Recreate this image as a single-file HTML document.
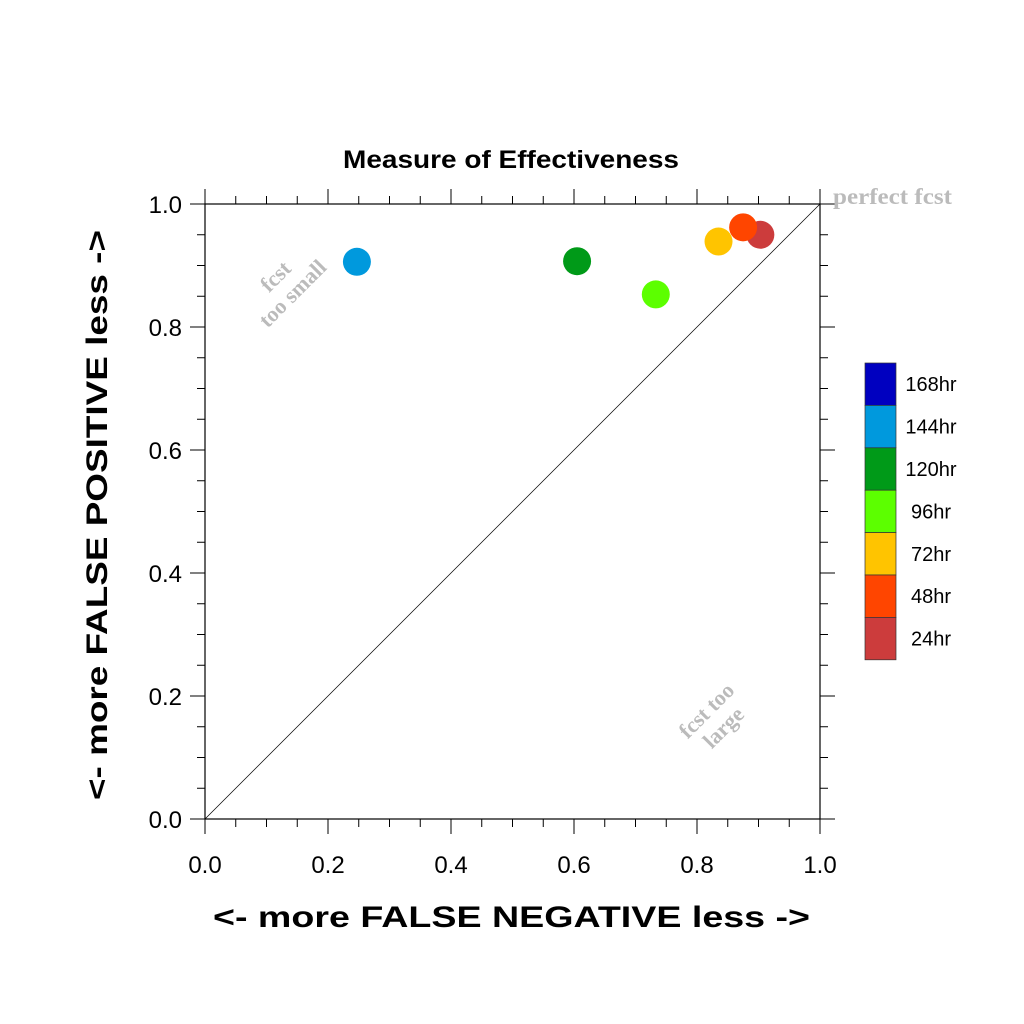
<!DOCTYPE html>
<html><head><meta charset="utf-8"><style>body{margin:0;background:#fff}svg{display:block}</style></head>
<body>
<svg id="c" width="1024" height="1024" xmlns="http://www.w3.org/2000/svg" font-family="Liberation Sans, sans-serif" xml:space="preserve">
<text x="343" y="168" textLength="336" lengthAdjust="spacingAndGlyphs" font-size="25" font-weight="bold">Measure of Effectiveness</text>
<g id="axes"></g>
<line x1="205" y1="819" x2="820" y2="204" stroke="#000" stroke-width="0.7"/>
<text x="833" y="204" textLength="119" lengthAdjust="spacingAndGlyphs" font-family="Liberation Serif, serif" font-weight="bold" font-size="23" fill="#bbb">perfect fcst</text>
<g transform="translate(287,288) rotate(-45)" fill="#bbb" font-family="Liberation Serif, serif" font-weight="bold" font-size="22" text-anchor="middle"><text x="0" y="-9">fcst</text><text x="0" y="15">too small</text></g>
<g transform="translate(718,722) rotate(-45)" fill="#bbb" font-family="Liberation Serif, serif" font-weight="bold" font-size="22" text-anchor="middle"><text x="0" y="-9">fcst too</text><text x="0" y="15">large</text></g>
<g id="pts"></g>
<g id="leg"></g>
<text x="213" y="927" textLength="597" lengthAdjust="spacingAndGlyphs" font-size="30" font-weight="bold">&lt;- more   FALSE NEGATIVE   less -&gt;</text>
<text transform="translate(107,800) rotate(-90)" x="0" y="0" textLength="570" lengthAdjust="spacingAndGlyphs" font-size="30" font-weight="bold">&lt;- more   FALSE POSITIVE   less -&gt;</text>
</svg>
<script>
const labels=["24hr","48hr","72hr","96hr","120hr","144hr"];
const xVals=[0.903,0.875,0.835,0.733,0.605,0.247];
const yVals=[0.950,0.962,0.939,0.853,0.907,0.906];
const legendLabels=["168hr","144hr","120hr","96hr","72hr","48hr","24hr"];
const legendColors=["#0000c0","#0099dd","#009a18","#5cff00","#ffc400","#ff4500","#cc3c3c"];
const tickVals=[0,0.2,0.4,0.6,0.8,1.0];
const colorOf={"24hr":"#cc3c3c","48hr":"#ff4500","72hr":"#ffc400","96hr":"#5cff00","120hr":"#009a18","144hr":"#0099dd"};
const NS="http://www.w3.org/2000/svg";
const X0=205,X1=820,Y0=819,Y1=204;
const sx=v=>X0+v*(X1-X0), sy=v=>Y0-v*(Y0-Y1);
function mk(t,a,p){const e=document.createElementNS(NS,t);for(const k in a)e.setAttribute(k,a[k]);p.appendChild(e);return e;}
const ax=document.getElementById('axes');
const fr=mk('rect',{x:X0,y:Y1,width:X1-X0,height:Y0-Y1,fill:'none',stroke:'#000','stroke-width':1.2},ax);


for(let i=0;i<=20;i++){const v=i/20;const maj=i%4===0;const L=maj?15:8;
 const px=sx(v),py=sy(v);
 [[px,Y0,px,Y0+L],[px,Y1,px,Y1-L],[X0,py,X0-L,py],[X1,py,X1+L,py]].forEach(c=>{const l=mk('line',{x1:c[0],y1:c[1],x2:c[2],y2:c[3],stroke:'#000','stroke-width':1},ax);
 
 });}
tickVals.forEach(v=>{const t=mk('text',{x:sx(v),y:873,'text-anchor':'middle','font-size':24},ax);t.textContent=v.toFixed(1);
 
 
 const u=mk('text',{x:182,y:sy(v)+9,'text-anchor':'end','font-size':24},ax);u.textContent=v.toFixed(1);
 
 });
const pg=document.getElementById('pts');
labels.forEach((l,i)=>{const c=mk('circle',{cx:sx(xVals[i]),cy:sy(yVals[i]),r:14,fill:colorOf[l]},pg);
 
 });
const lg=document.getElementById('leg');
const bh=42.4;
legendLabels.forEach((l,i)=>{const r=mk('rect',{x:865,y:363+i*bh,width:31,height:bh,fill:legendColors[i],stroke:'#333','stroke-width':0.7},lg);
 
 
 const t=mk('text',{x:931,y:363+i*bh+bh/2+7,'text-anchor':'middle','font-size':20},lg);t.textContent=l;
 
 });
</script>
</body></html>
